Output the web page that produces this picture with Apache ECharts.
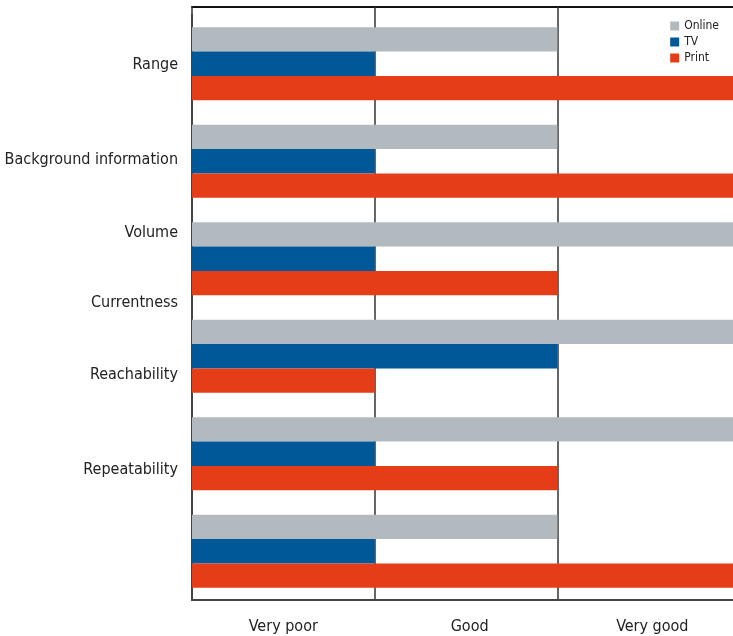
<!DOCTYPE html>
<html><head><meta charset="utf-8">
<script src="https://cdn.jsdelivr.net/npm/echarts@6/dist/echarts.min.js"></script>
<style>html,body{margin:0;padding:0;background:#fff}#c{width:733px;height:636px}</style>
</head><body><div id="c"></div>
<script>
const categories = ['Range','Background information','Volume','Currentness','Reachability','Repeatability'];
const labelPositions = [0.51, 1.49, 2.23, 2.95, 3.69, 4.67];
const ratingLabels = ['Very poor','Good','Very good'];
const ratingLabelPositions = [0.5, 1.52, 2.52];
const online = [2,2,3,3,3,2];
const tv = [1,1,1,2,1,1];
const print = [3,3,2,1,2,3];
const FONT = '"Liberation Sans Narrow","DejaVu Sans Condensed",sans-serif';
const chart = echarts.init(document.getElementById('c'), null, {renderer:'canvas'});
function nearest(positions, names, v){
  let best=0, d=1e9;
  positions.forEach((p,i)=>{ if(Math.abs(p-v)<d){d=Math.abs(p-v);best=i;} });
  return names[best];
}
chart.setOption({
  animation:false,
  textStyle:{fontFamily:FONT},
  color:['#b3babf','#005898','#e43d18'],
  legend:{orient:'vertical', right:9, top:15, itemWidth:9, itemHeight:9, itemGap:4, padding:5,
    icon:'rect', textStyle:{fontSize:12,color:'#222',fontFamily:FONT}, data:['Online','TV','Print']},
  grid:{left:192,width:548,top:15,bottom:36,outerBoundsMode:'none',containLabel:false},
  xAxis:[
   {type:'value',min:0,max:3,interval:1,position:'bottom',
    axisLine:{show:true,onZero:false,lineStyle:{color:'#444',width:2}},axisTick:{show:false},axisLabel:{show:false},
    splitLine:{show:true,lineStyle:{color:'#333',width:1.5}}},
   {type:'value',min:0,max:3,interval:1,position:'top',offset:8,
    axisLine:{show:true,onZero:false,lineStyle:{color:'#111',width:2}},
    axisTick:{show:true,inside:true,length:8,lineStyle:{color:'#333',width:1.5}},
    axisLabel:{show:false},splitLine:{show:false}},
   {type:'value',min:0,max:3,position:'bottom',
    axisLine:{show:false,onZero:false},axisTick:{show:false},splitLine:{show:false},
    axisLabel:{customValues:ratingLabelPositions,formatter:(v)=>nearest(ratingLabelPositions,ratingLabels,v),
      fontSize:16,color:'#222',margin:19,fontFamily:FONT}}
  ],
  yAxis:[
   {type:'category',data:categories,inverse:true,
    axisLine:{show:true,onZero:false,lineStyle:{color:'#444',width:2}},axisTick:{show:false},axisLabel:{show:false},
    splitLine:{show:false}},
   {type:'value',min:0,max:6,inverse:true,position:'left',
    axisLine:{show:false,onZero:false},axisTick:{show:false},splitLine:{show:false},
    axisLabel:{customValues:labelPositions,formatter:(v)=>nearest(labelPositions,categories,v),
      fontSize:16,color:'#222',margin:14,fontFamily:FONT}}
  ],
  series:[
   {name:'Online',type:'bar',data:online,xAxisIndex:0,yAxisIndex:0,barGap:'0%',barCategoryGap:'25%'},
   {name:'TV',type:'bar',data:tv,xAxisIndex:0,yAxisIndex:0,barGap:'0%',barCategoryGap:'25%'},
   {name:'Print',type:'bar',data:print,xAxisIndex:0,yAxisIndex:0,barGap:'0%',barCategoryGap:'25%'}
  ]
});
</script></body></html>
